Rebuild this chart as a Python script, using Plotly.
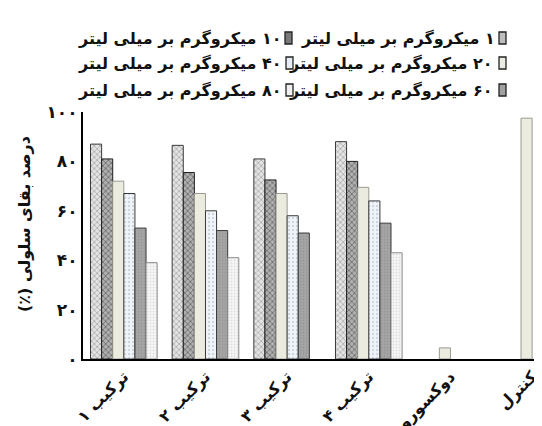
import plotly.graph_objects as go

# ---------------- data ----------------
categories = ["ترکیب ۱", "ترکیب ۲", "ترکیب ۳", "ترکیب ۴", "دوکسوروبیسین", "کنترل"]
series_names = [
    "۱ میکروگرم بر میلی لیتر",
    "۱۰ میکروگرم بر میلی لیتر",
    "۲۰ میکروگرم بر میلی لیتر",
    "۴۰ میکروگرم بر میلی لیتر",
    "۶۰ میکروگرم بر میلی لیتر",
    "۸۰ میکروگرم بر میلی لیتر",
]
s1 = [87, 86.5, 81, 88, None, None]
s10 = [81, 75.5, 72.5, 80, None, None]
s20 = [72, 67, 67, 69.5, 4.5, 97.5]
s40 = [67, 60, 58, 64, None, None]
s60 = [53, 52, 51, 55, None, None]
s80 = [39, 41, None, 43, None, None]
ytick_vals = [0, 20, 40, 60, 80, 100]
ytick_text = ["۰", "۲۰", "۴۰", "۶۰", "۸۰", "۱۰۰"]
y_title = "درصد بقای سلولی (٪)"

values = [s1, s10, s20, s40, s60, s80]

# ---------------- styles ----------------
FONT = "DejaVu Sans"
RLM = "\u200f"
W, H = 542, 426
L, R, T, B = 75, 0, 104, 75
PW, PH = W - L - R, H - T - B

styles = [
    dict(color="#d6d6d6", pattern=dict(shape="x", fgcolor="#6a6a6a", bgcolor="#e4e4e4", size=4, solidity=0.35), line="#3a3a3a", sw="#bdbdbd"),
    dict(color="#9a9a9a", pattern=dict(shape="x", fgcolor="#2e2e2e", bgcolor="#b0b0b0", size=4, solidity=0.4), line="#1e1e1e", sw="#7a7a7a"),
    dict(color="#ecebe0", pattern=None, line="#9a9a90", sw="#ecebe0"),
    dict(color="#eef3f8", pattern=dict(shape=".", fgcolor="#a9b8c8", bgcolor="#f1f5f9", size=4, solidity=0.3), line="#3a3a3a", sw="#e6edf4"),
    dict(color="#a0a0a0", pattern=dict(shape=".", fgcolor="#888888", bgcolor="#a6a6a6", size=3, solidity=0.3), line="#3a3a3a", sw="#a0a0a0"),
    dict(color="#f4f4f4", pattern=dict(shape=".", fgcolor="#c4c4c4", bgcolor="#f7f7f7", size=3, solidity=0.3), line="#8a8a8a", sw="#f0f0f0"),
]

fig = go.Figure()
for name, vals, st in zip(series_names, values, styles):
    marker = dict(color=st["color"], line=dict(color=st["line"], width=1))
    if st["pattern"]:
        marker["pattern"] = st["pattern"]
    fig.add_trace(go.Bar(x=categories, y=vals, name=name, marker=marker, showlegend=False))


def px_x(p):
    return (p - L) / PW


def px_y(p):
    return (H - B - p) / PH


# custom RTL legend: text then swatch on its right
legend_pos = [  # (text right edge px, swatch left px, row centre px)
    (489, 491, 30),
    (276, 277, 30),
    (487, 491, 55),
    (276, 278, 55),
    (487, 491, 82),
    (276, 278, 82),
]
annotations = []
shapes = []
for name, st, (tx, sx, cy) in zip(series_names, styles, legend_pos):
    annotations.append(dict(
        x=px_x(tx), y=px_y(cy), xref="paper", yref="paper", text=RLM + name + RLM,
        showarrow=False, xanchor="right", yanchor="middle",
        font=dict(family=FONT, size=16, color="#111", weight="bold"),
    ))
    shapes.append(dict(
        type="rect", xref="paper", yref="paper",
        x0=px_x(sx), x1=px_x(sx + 7), y0=px_y(cy + 6), y1=px_y(cy - 6),
        fillcolor=st["sw"], line=dict(color="#222", width=1.3),
    ))

annotations.append(dict(
    x=px_x(16), y=px_y(216), xref="paper", yref="paper", text=RLM + y_title + RLM,
    showarrow=False, textangle=-90, xanchor="center", yanchor="middle",
    font=dict(family=FONT, size=16, color="#111", weight="bold"),
))

fig.update_layout(
    width=W, height=H,
    margin=dict(l=L, r=R, t=T, b=B, autoexpand=False),
    paper_bgcolor="white", plot_bgcolor="white",
    barmode="group", bargap=0.184, bargroupgap=0,
    annotations=annotations, shapes=shapes,
    font=dict(family=FONT, color="#111"),
)
fig.update_xaxes(
    range=[-0.5, 5.219], showline=True, linecolor="black", linewidth=2,
    ticks="", showgrid=False, tickangle=-45, automargin=False,
    tickfont=dict(family=FONT, size=16, color="#111", weight="bold"),
)
fig.update_yaxes(
    range=[0, 100], showline=True, linecolor="black", linewidth=2,
    ticks="", showgrid=False, zeroline=False, automargin=False,
    tickvals=ytick_vals, ticktext=ytick_text, ticklabelstandoff=0,
    tickfont=dict(family=FONT, size=17, color="#111", weight="bold"),
)

fig.write_html("out.html")
